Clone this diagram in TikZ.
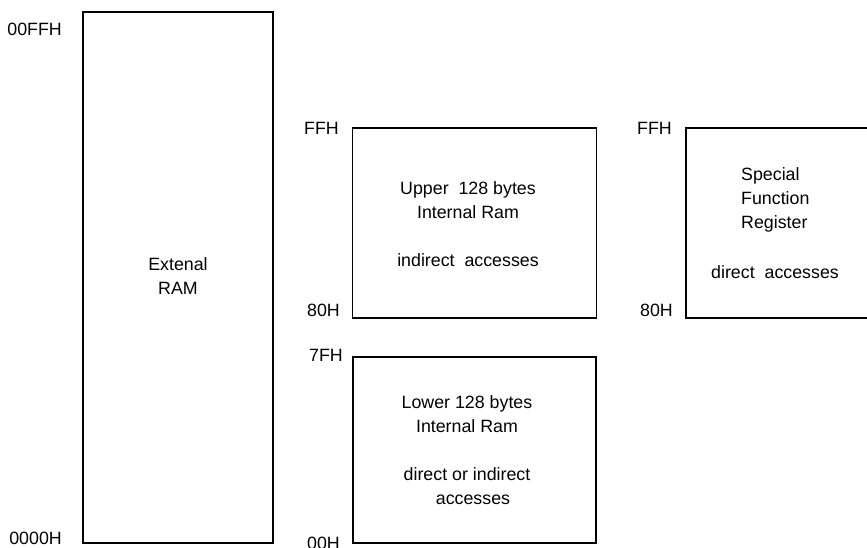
\documentclass[tikz,border=0pt]{standalone}
\usepackage{fontspec}
\setmainfont{Liberation Sans}

\begin{document}
\begin{tikzpicture}[x=1pt,y=-1pt,
	mem/.style={shape=rectangle, draw, line width=1.6pt, inner sep=0pt},
	addr/.style={anchor=east, inner sep=0pt, font=\fontsize{17.8}{24}\selectfont},
	txt/.style={align=center, anchor=north, inner sep=0pt, font=\fontsize{17.8}{24}\selectfont}]
	\useasboundingbox (0,0) rectangle (867,548);
	\clip (0,0) rectangle (867,548);

	\node[mem, minimum width=190, minimum height=531] (ext) at (178,277.5) {};
	\node[mem, minimum width=244, minimum height=190] (upper) at (474.5,223) {};
	\node[mem, minimum width=243, minimum height=186] (lower) at (474.5,450) {};
	\node[mem, minimum width=194, minimum height=190] (sfr) at (783,223) {};

	\node[addr] (a00ffh) at (62,29.5) {00FFH};
	\node[addr] (a0000h) at (62,538.5) {0000H};
	\node[addr] (uffh) at (339,128) {FFH};
	\node[addr] (u80h) at (340,310) {80H};
	\node[addr] (l7fh) at (343,355) {7FH};
	\node[addr] (l00h) at (340,543.5) {00H};
	\node[addr] (sffh) at (672,128.5) {FFH};
	\node[addr] (s80h) at (673,310) {80H};

	\node[txt] (exttext) at (178,257) {Extenal\\RAM};
	\node[txt] (uppertext) at (468,181) {Upper~~128 bytes\\Internal Ram\\[24pt]indirect~~accesses};
	\node[txt] (lowertext) at (467,395) {Lower 128 bytes\\Internal Ram\\[24pt]direct or indirect\\\hspace*{12pt}accesses};
	\node[txt, align=left, anchor=north west] (sfrtext) at (741,167) {Special\\Function\\Register};
	\node[txt, anchor=north west] (sfracc) at (711,265) {direct~~accesses};
\end{tikzpicture}
\end{document}
